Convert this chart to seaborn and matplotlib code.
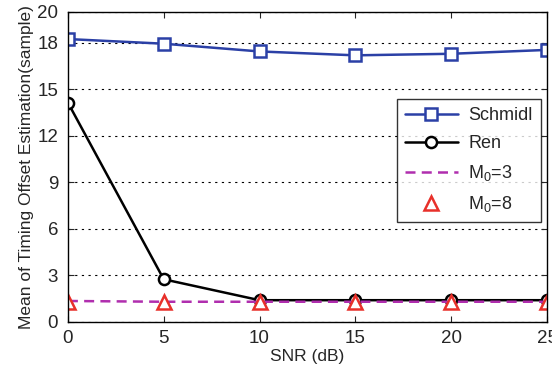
import numpy as np
import pandas as pd
import matplotlib
matplotlib.use("Agg")
import matplotlib.pyplot as plt
import seaborn as sns

snr = [0, 5, 10, 15, 20, 25]
schmidl = [18.25, 17.95, 17.45, 17.2, 17.3, 17.55]
ren = [14.15, 2.75, 1.4, 1.4, 1.4, 1.4]
m0_3 = [1.35, 1.3, 1.3, 1.3, 1.3, 1.3]
m0_8 = [1.3, 1.3, 1.3, 1.3, 1.3, 1.3]

sns.set_style("ticks")
plt.rcParams["font.family"] = ["Liberation Sans", "DejaVu Sans"]
plt.rcParams["mathtext.fontset"] = "custom"
plt.rcParams["mathtext.rm"] = "Liberation Sans"
plt.rcParams["mathtext.it"] = "Liberation Sans"

df = pd.DataFrame({"snr": snr, "schmidl": schmidl, "ren": ren, "m3": m0_3, "m8": m0_8})

fig, ax = plt.subplots(figsize=(5.52, 3.73), dpi=100)

sns.lineplot(data=df, x="snr", y="schmidl", ax=ax, color="#2B40A6", lw=1.8,
             marker="s", markersize=9, markerfacecolor="white",
             markeredgecolor="#2B40A6", markeredgewidth=1.8, label="Schmidl")
sns.lineplot(data=df, x="snr", y="ren", ax=ax, color="black", lw=1.8,
             marker="o", markersize=8, markerfacecolor="white",
             markeredgecolor="black", markeredgewidth=1.8, label="Ren")
sns.lineplot(data=df, x="snr", y="m3", ax=ax, color="#B02EAE", lw=1.8,
             linestyle=(0, (4, 2.5)), label="$\\mathrm{M_0}$=3")
sns.lineplot(data=df, x="snr", y="m8", ax=ax, color="#E8302A", lw=0,
             marker="^", markersize=10, markerfacecolor="white",
             markeredgecolor="#E8302A", markeredgewidth=1.8, label="$\\mathrm{M_0}$=8")

ax.set_xlim(0, 25)
ax.set_ylim(0, 20)
ax.set_xticks(snr)
ax.set_yticks([0, 3, 6, 9, 12, 15, 18, 20])
ax.tick_params(direction="in", top=True, right=True, labelsize=13.5, length=4)
ax.tick_params(axis="y", pad=7)
ax.tick_params(axis="x", pad=6)
ax.yaxis.grid(True, linestyle=(0, (2, 4)), color="black", lw=0.8)
for s in ax.spines.values():
    s.set_linewidth(1.0)
    s.set_color("black")
ax.set_xlabel("SNR (dB)", fontsize=12.5, labelpad=1)
ax.set_ylabel("Mean of Timing Offset Estimation(sample)", fontsize=12.5, labelpad=2)

leg = ax.legend(loc="center right", bbox_to_anchor=(1.006, 0.52), fontsize=13,
                frameon=True, fancybox=False, edgecolor="black",
                handlelength=2.9, handletextpad=0.6, borderpad=0.45, labelspacing=0.6)
leg.get_frame().set_linewidth(1.0)

fig.subplots_adjust(left=0.123, right=0.991, top=0.968, bottom=0.137)
fig.savefig("out.png", dpi=100)
